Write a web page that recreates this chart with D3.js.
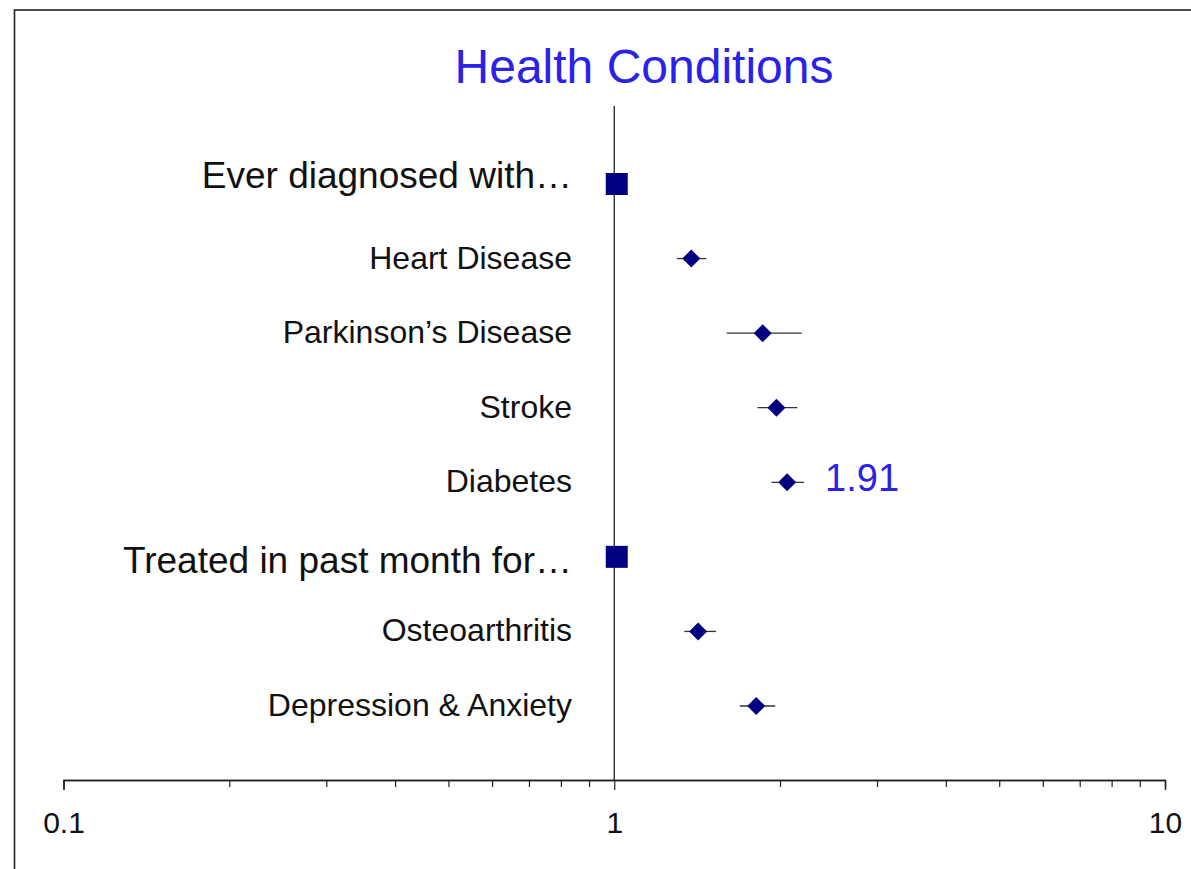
<!DOCTYPE html>
<html>
<head>
<meta charset="utf-8">
<script src="https://cdn.jsdelivr.net/npm/d3@7"></script>
<style>
  html, body { margin: 0; padding: 0; background: #fff; }
  svg { display: block; font-family: Arial, "Liberation Sans", sans-serif; }
</style>
</head>
<body>
<svg id="chart" width="1191" height="869"></svg>
<script>
// ---- data ----
const labels = ["Ever diagnosed with\u2026", "Heart Disease", "Parkinson\u2019s Disease", "Stroke", "Diabetes",
                "Treated in past month for\u2026", "Osteoarthritis", "Depression & Anxiety"];
const isHeader = [true, false, false, false, false, true, false, false];
const estimates = [1, 1.38, 1.86, 1.97, 2.06, 1, 1.42, 1.81];
const lowerCI   = [null, 1.30, 1.60, 1.82, 1.93, null, 1.34, 1.69];
const upperCI   = [null, 1.47, 2.19, 2.15, 2.21, null, 1.53, 1.96];
const tickValues = [0.1, 1, 10];
const tickLabels = ["0.1", "1", "10"];
const annotationText = "1.91";
const annotationRow = 4;
const title = "Health Conditions";

// ---- layout ----
const svg = d3.select("#chart");
const W = 1191, H = 869;
const axisY = 780;
const navy = "#000080";
const blue = "#2A22E6";

const x = d3.scaleLog().domain([0.1, 10]).range([63.5, 1165]);
const y = d3.scalePoint().domain(d3.range(labels.length)).range([184, 706]);

// frame
svg.append("rect")
  .attr("x", 14.5).attr("y", 10).attr("width", W + 20).attr("height", H + 20)
  .attr("fill", "none").attr("stroke", "#222").attr("stroke-width", 1.6);

// title
svg.append("text")
  .attr("x", 644).attr("y", 83)
  .attr("text-anchor", "middle")
  .attr("font-size", 48)
  .attr("fill", blue)
  .text(title);

// reference line at 1
svg.append("line")
  .attr("x1", x(1)).attr("x2", x(1))
  .attr("y1", 106).attr("y2", axisY)
  .attr("stroke", "#222").attr("stroke-width", 1.3);

// x axis
const minorTicks = [];
[0.1, 1].forEach(b => { for (let k = 2; k <= 9; k++) minorTicks.push(b * k); });
const axisG = svg.append("g").attr("transform", `translate(0,${axisY})`);
axisG.call(d3.axisBottom(x).tickValues(minorTicks).tickSize(7).tickFormat(""));
axisG.append("g").call(d3.axisBottom(x).tickValues(tickValues).tickSize(10)
  .tickFormat((d, i) => tickLabels[i]).tickPadding(0));
axisG.selectAll(".domain").attr("stroke", "#222").attr("stroke-width", 1.3);
axisG.selectAll(".tick line").attr("stroke", "#222").attr("stroke-width", 1.2);
axisG.selectAll("text")
  .attr("font-size", 30).attr("fill", "#111")
  .attr("font-family", "Arial, 'Liberation Sans', sans-serif")
  .attr("dy", null).attr("y", 53);

// row labels
const rows = labels.map((l, i) => ({ label: l, header: isHeader[i], est: estimates[i], lo: lowerCI[i], hi: upperCI[i], i }));

svg.selectAll("text.rowlabel").data(rows).join("text")
  .attr("class", "rowlabel")
  .attr("x", 572)
  .attr("y", d => y(d.i) + (d.header ? (d.i === 0 ? 4 : 16) : 10))
  .attr("text-anchor", "end")
  .attr("font-size", d => d.header ? 37 : 32)
  .attr("fill", "#111")
  .text(d => d.label);

// CI lines
svg.selectAll("line.ci").data(rows.filter(d => d.lo != null)).join("line")
  .attr("class", "ci")
  .attr("x1", d => x(d.lo)).attr("x2", d => x(d.hi))
  .attr("y1", d => y(d.i)).attr("y2", d => y(d.i))
  .attr("stroke", "#333").attr("stroke-width", 1.3);

// header squares
svg.selectAll("path.sq").data(rows.filter(d => d.header)).join("path")
  .attr("class", "sq")
  .attr("transform", d => `translate(${x(d.est) + 2.5},${y(d.i)})`)
  .attr("d", d3.symbol(d3.symbolSquare, 22 * 22))
  .attr("fill", navy);

// diamonds
const diamond = "M0,-9L9,0L0,9L-9,0Z";
svg.selectAll("path.dm").data(rows.filter(d => !d.header)).join("path")
  .attr("class", "dm")
  .attr("transform", d => `translate(${x(d.est)},${y(d.i)})`)
  .attr("d", diamond)
  .attr("fill", navy);

// annotation
svg.append("text")
  .attr("x", x(estimates[annotationRow]) + 38)
  .attr("y", y(annotationRow) + 9)
  .attr("font-size", 38)
  .attr("fill", blue)
  .text(annotationText);
</script>
</body>
</html>
